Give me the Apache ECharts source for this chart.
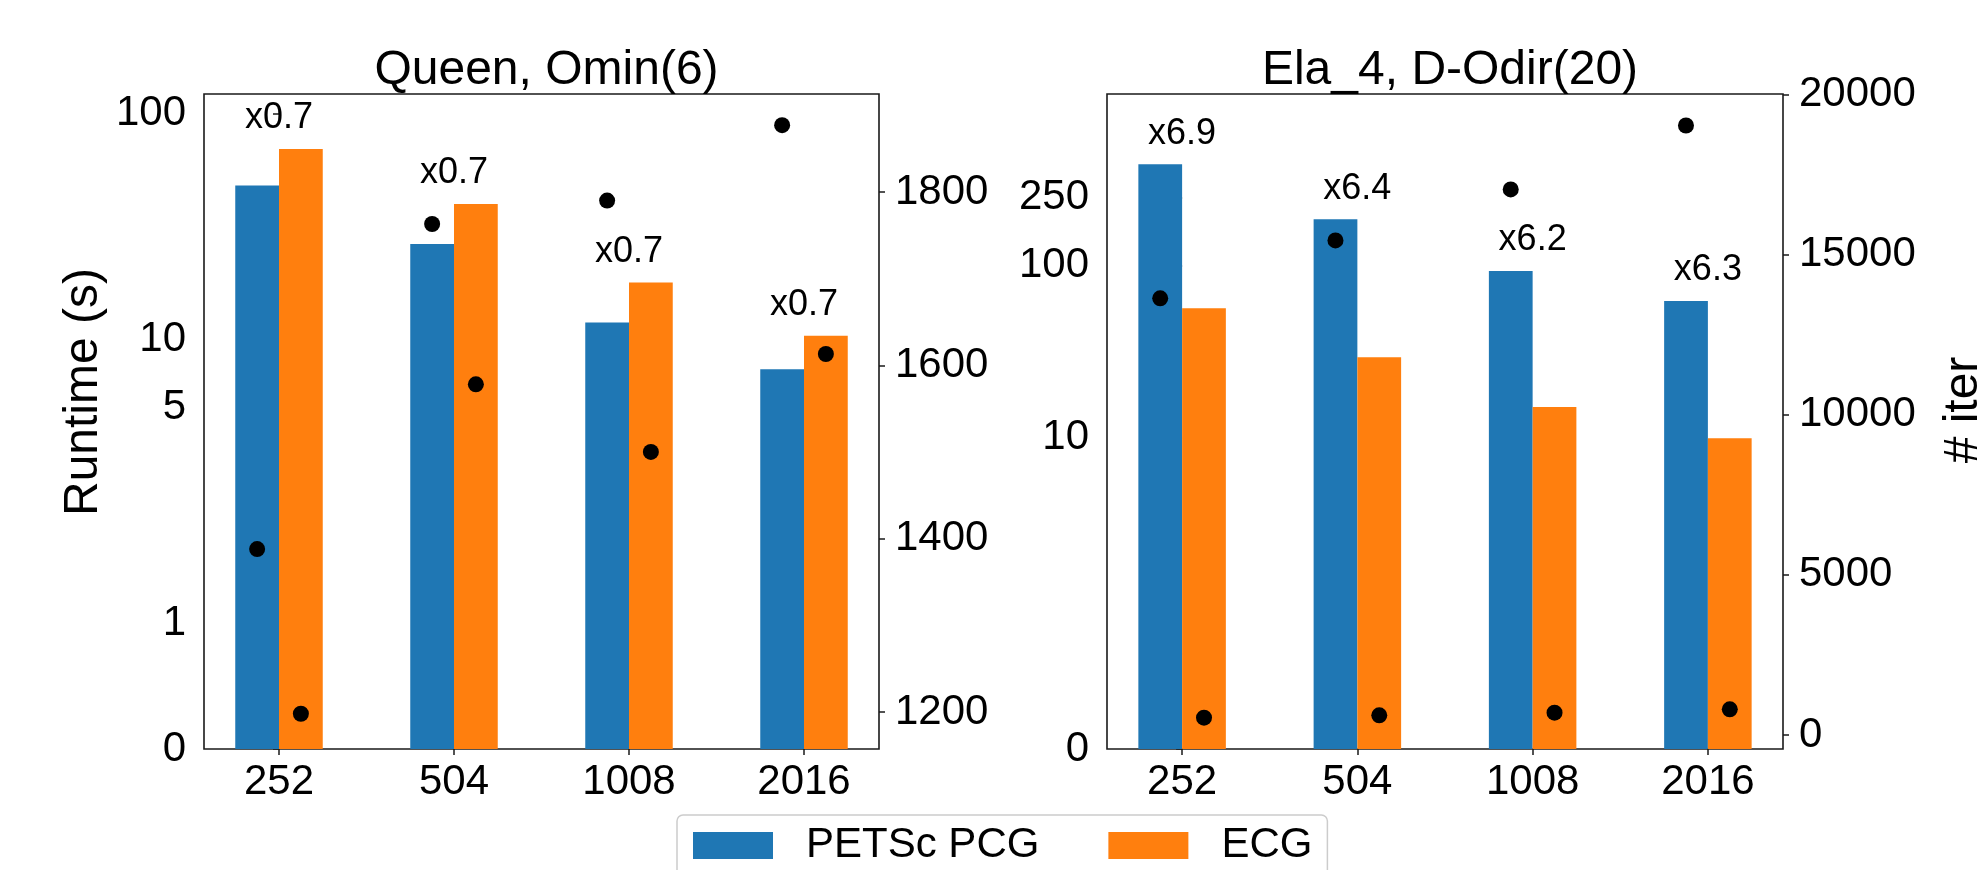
<!DOCTYPE html>
<html>
<head>
<meta charset="utf-8">
<script src="https://cdn.jsdelivr.net/npm/echarts@6/dist/echarts.min.js"></script>
<style>
html,body{margin:0;padding:0;background:#fff;}
#chart{width:1982px;height:870px;}
</style>
</head>
<body>
<div id="chart"></div>
<script>
// ---------------- data ----------------
const categories = ['252', '504', '1008', '2016'];
const seriesNames = ['PETSc PCG', 'ECG'];

const queenTitle = 'Queen, Omin(6)';
const queenPetsc = [48.1, 26.5, 11.9, 7.4];
const queenEcg = [69.7, 39.8, 17.9, 10.4];
const queenIterPetsc = [1388, 1763, 1790, 1877];
const queenIterEcg = [1198, 1578, 1500, 1613];
const queenSpeedup = ['x0.7', 'x0.7', 'x0.7', 'x0.7'];
const queenRuntimeTicks = [0, 1, 5, 10, 100];
const queenRuntimeTickLabels = ['0', '1', '5', '10', '100'];
const queenIterTicks = [1200, 1400, 1600, 1800];

const elaTitle = 'Ela_4, D-Odir(20)';
const elaPetsc = [390, 187, 93.5, 62.6];
const elaEcg = [56.8, 29.4, 15.1, 9.95];
const elaIterPetsc = [13635, 15445, 17036, 19033];
const elaIterEcg = [540, 615, 696, 802];
const elaSpeedup = ['x6.9', 'x6.4', 'x6.2', 'x6.3'];
const elaRuntimeTicks = [0, 1, 10, 100, 250];
const elaRuntimeTickLabels = ['0', '', '10', '100', '250'];
const elaIterTicks = [0, 5000, 10000, 15000, 20000];

const yLabelLeft = 'Runtime (s)';
const yLabelRight = '# iter';

// ---------------- scales ----------------
const LINTHRESH = 2;
const LINSCALE_ADJ = 1 / (1 - 1 / 10);
function symlog(v) {
  return v <= LINTHRESH ? v * LINSCALE_ADJ
    : LINTHRESH * (LINSCALE_ADJ + Math.log10(v / LINTHRESH));
}
const BAR_W = 0.25;
const FONT = 'Liberation Sans, Arial, sans-serif';
const BLUE = '#1f77b4', ORANGE = '#ff7f0e';
const AXIS_COLOR = '#1a1a1a';

const panels = [
  { title: queenTitle, petsc: queenPetsc, ecg: queenEcg, iterP: queenIterPetsc, iterE: queenIterEcg,
    speed: queenSpeedup, rTicks: queenRuntimeTicks, rLabels: queenRuntimeTickLabels, rMax: 122,
    iTicks: queenIterTicks, iMin: 1157.3, iMax: 1913,
    left: 204, width: 675 },
  { title: elaTitle, petsc: elaPetsc, ecg: elaEcg, iterP: elaIterPetsc, iterE: elaIterEcg,
    speed: elaSpeedup, rTicks: elaRuntimeTicks, rLabels: elaRuntimeTickLabels, rMax: 1000,
    iTicks: elaIterTicks, iMin: -437, iMax: 20016,
    left: 1107, width: 676 }
];
const GRID_TOP = 94, GRID_H = 655;

const grid = [], xAxis = [], yAxis = [], series = [], title = [];
const tickStyle = { show: true, length: 6, lineStyle: { color: AXIS_COLOR, width: 1.5 } };
const labelStyle = { color: '#000', fontSize: 42, fontFamily: FONT, lineHeight: 42 };

panels.forEach((p, k) => {
  grid.push({ left: p.left, top: GRID_TOP, width: p.width, height: GRID_H,
    show: true, borderColor: AXIS_COLOR, borderWidth: 1.6, backgroundColor: 'transparent', containLabel: false });
  title.push({ text: p.title, left: p.left + p.width / 2, top: 42, textAlign: 'center',
    textStyle: { fontSize: 48, fontWeight: 'normal', color: '#000', fontFamily: FONT } });
  const xIdx = [0, 1, 2, 3];
  xAxis.push({ type: 'value', gridIndex: k, min: -0.4285714, max: 3.4285714,
    axisLine: { show: false }, splitLine: { show: false },
    axisTick: Object.assign({ customValues: xIdx }, tickStyle),
    axisLabel: Object.assign({ customValues: xIdx, margin: 12,
      formatter: v => categories[Math.round(v)] }, labelStyle) });
  const rT = p.rTicks.map(symlog);
  yAxis.push({ type: 'value', gridIndex: k, position: 'left', min: 0, max: symlog(p.rMax),
    axisLine: { show: false }, splitLine: { show: false },
    axisTick: Object.assign({ customValues: rT }, tickStyle),
    axisLabel: Object.assign({ customValues: rT, margin: 18,
      formatter: v => { const i = rT.findIndex(t => Math.abs(t - v) < 1e-6); return i >= 0 ? p.rLabels[i] : ''; } }, labelStyle) });
  yAxis.push({ type: 'value', gridIndex: k, position: 'right', min: p.iMin, max: p.iMax,
    axisLine: { show: false }, splitLine: { show: false },
    axisTick: Object.assign({ customValues: p.iTicks }, tickStyle),
    axisLabel: Object.assign({ customValues: p.iTicks, margin: 16, formatter: v => String(Math.round(v)) }, labelStyle) });

  const yR = 2 * k, yI = 2 * k + 1;
  series.push({ name: seriesNames[0], type: 'bar', xAxisIndex: k, yAxisIndex: yR,
    barWidth: 43.75, barGap: '0%', itemStyle: { color: BLUE },
    data: p.petsc.map((v, i) => [i, symlog(v)]) });
  series.push({ name: seriesNames[1], type: 'bar', xAxisIndex: k, yAxisIndex: yR,
    barWidth: 43.75, barGap: '0%', itemStyle: { color: ORANGE },
    data: p.ecg.map((v, i) => [i, symlog(v)]) });
  series.push({ name: 'speedup' + k, type: 'scatter', xAxisIndex: k, yAxisIndex: yR, silent: true,
    symbol: 'circle', symbolSize: 1, itemStyle: { color: 'rgba(0,0,0,0)', opacity: 1 }, z: 5,
    labelLayout: { hideOverlap: false },
    label: { show: true, position: 'top', distance: 12, color: '#000', fontSize: 36, lineHeight: 36,
      fontFamily: FONT, formatter: prm => p.speed[prm.dataIndex] },
    data: p.petsc.map((v, i) => [i, symlog(Math.max(v, p.ecg[i]))]) });
  series.push({ name: 'iter' + k, type: 'scatter', xAxisIndex: k, yAxisIndex: yI, silent: true,
    symbol: 'circle', symbolSize: 16, itemStyle: { color: '#000', opacity: 1 }, z: 6,
    data: p.iterP.map((v, i) => [i - BAR_W / 2, v]).concat(p.iterE.map((v, i) => [i + BAR_W / 2, v])) });
});

const chart = echarts.init(document.getElementById('chart'), null, { renderer: 'canvas' });
chart.setOption({
  backgroundColor: '#fff',
  animation: false,
  title: title,
  grid: grid,
  xAxis: xAxis,
  yAxis: yAxis,
  series: series,
  legend: {
    data: seriesNames, left: 677, top: 815, orient: 'horizontal',
    icon: 'rect', itemWidth: 80, itemHeight: 27, itemGap: 69,
    padding: [9.5, 15, 30, 16], borderColor: '#cccccc', borderWidth: 1.5, borderRadius: 6,
    backgroundColor: '#fff',
    textStyle: { fontSize: 42, fontFamily: FONT, color: '#000', lineHeight: 42, padding: [0, 0, 0, 28] }
  },
  graphic: [
    { type: 'text', x: 84, y: 392, rotation: Math.PI / 2,
      style: { text: yLabelLeft, font: '48px ' + FONT, fill: '#000', textAlign: 'center', textVerticalAlign: 'middle' } },
    { type: 'text', x: 1964, y: 410, rotation: Math.PI / 2,
      style: { text: yLabelRight, font: '48px ' + FONT, fill: '#000', textAlign: 'center', textVerticalAlign: 'middle' } }
  ]
});
</script>
</body>
</html>
